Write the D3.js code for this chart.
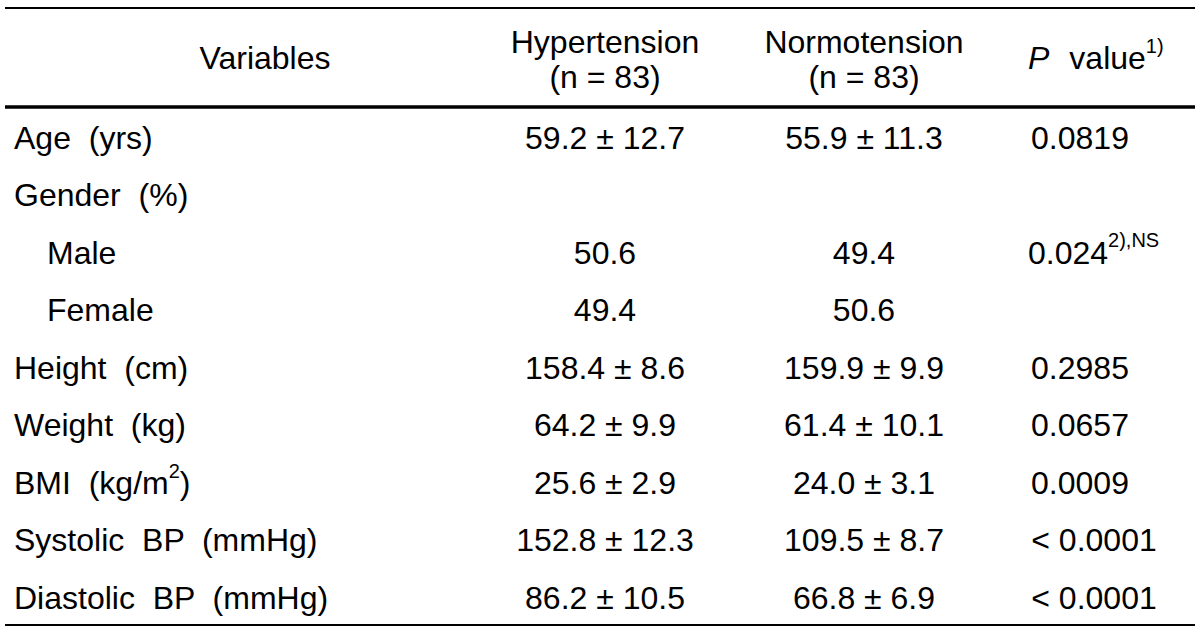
<!DOCTYPE html>
<html><head><meta charset="utf-8">
<script src="https://cdn.jsdelivr.net/npm/d3@7"></script>
<style>
body{margin:0;background:#fff;}
svg text{font-family:"Liberation Sans",Arial,sans-serif;fill:#000;white-space:pre;}
</style></head>
<body><svg id="c" width="1200" height="632"></svg>
<script>
const headers = [
  {lines:["Variables"]},
  {lines:["Hypertension","(n = 83)"]},
  {lines:["Normotension","(n = 83)"]},
  {lines:["P value"]}
];
const variables = [
  {t:"Age  (yrs)"},
  {t:"Gender  (%)"},
  {t:"Male", indent:true},
  {t:"Female", indent:true},
  {t:"Height  (cm)"},
  {t:"Weight  (kg)"},
  {t:"BMI  (kg/m", sup:"2", tail:")"},
  {t:"Systolic  BP  (mmHg)"},
  {t:"Diastolic  BP  (mmHg)"}
];
const hyper = ["59.2 ± 12.7","","50.6","49.4","158.4 ± 8.6","64.2 ± 9.9","25.6 ± 2.9","152.8 ± 12.3","86.2 ± 10.5"];
const normo = ["55.9 ± 11.3","","49.4","50.6","159.9 ± 9.9","61.4 ± 10.1","24.0 ± 3.1","109.5 ± 8.7","66.8 ± 6.9"];
const pvals = [{t:"0.0819"},{t:""},{t:"0.024",sup:"2),NS"},{t:""},{t:"0.2985"},{t:"0.0657"},{t:"0.0009"},{t:"< 0.0001"},{t:"< 0.0001"}];

const svg = d3.select("#c");
const FS = 32, SUP = 20;
const y = d3.scaleBand().domain(d3.range(variables.length)).range([109,626.5]);
const xc = d3.scaleOrdinal().domain(["var","hyp","nor","p"]).range([14,605,864,1080]);

// rules
const rules = [{y:8,w:2},{y:107,w:3.5},{y:625,w:2}];
svg.selectAll("line.r").data(rules).join("line")
  .attr("x1",5).attr("x2",1195).attr("y1",d=>d.y).attr("y2",d=>d.y)
  .attr("stroke","#000").attr("stroke-width",d=>d.w);

// headers
const hx = [265, xc("hyp"), xc("nor"), xc("p")];
headers.forEach((h,i)=>{
  const ys = h.lines.length===2 ? [42,77] : [58];
  h.lines.forEach((ln,j)=>{
    const t = svg.append("text").attr("x",hx[i]).attr("y",ys[j])
      .attr("text-anchor","middle").attr("dominant-baseline","central")
      .style("font-size",FS+"px");
    if(ln==="P value"){
      t.attr("text-anchor","start").attr("x",xc("p")-52);
      t.append("tspan").style("font-style","italic").text("P");
      t.append("tspan").attr("dx",20).text("value");
      t.append("tspan").attr("dy",-12).style("font-size",SUP+"px").text("1)");
    } else t.text(ln);
  });
});

// variable column
variables.forEach((v,i)=>{
  const cy = y(i)+y.bandwidth()/2;
  const t = svg.append("text").attr("x", v.indent? xc("var")+33 : xc("var")).attr("y",cy)
    .attr("dominant-baseline","central").style("font-size",FS+"px");
  t.append("tspan").text(v.t);
  if(v.sup){
    t.append("tspan").attr("dy",-12).style("font-size",SUP+"px").text(v.sup);
    t.append("tspan").attr("dy",12).text(v.tail);
  }
});

function col(arr,key){
  svg.selectAll("text."+key).data(arr).join("text").attr("class",key)
    .attr("x",xc(key)).attr("y",(d,i)=>y(i)+y.bandwidth()/2)
    .attr("text-anchor","middle").attr("dominant-baseline","central")
    .style("font-size",FS+"px").text(d=>d);
}
col(hyper,"hyp");
col(normo,"nor");

pvals.forEach((p,i)=>{
  if(!p.t) return;
  const cy = y(i)+y.bandwidth()/2;
  const t = svg.append("text").attr("x",xc("p") + (p.t.startsWith("<")?14:0)).attr("y",cy)
    .attr("text-anchor", p.sup? "start":"middle").attr("dominant-baseline","central")
    .style("font-size",FS+"px");
  t.append("tspan").text(p.t);
  if(p.sup){
    t.attr("x",xc("p")-52);
    t.append("tspan").attr("dy",-13).style("font-size",SUP+"px").text(p.sup);
  }
});
</script></body></html>
